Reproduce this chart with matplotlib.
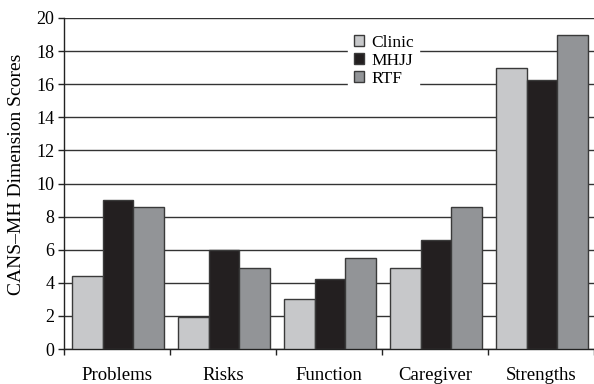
import matplotlib
matplotlib.use("Agg")
import matplotlib.pyplot as plt
import numpy as np

categories = ["Problems", "Risks", "Function", "Caregiver", "Strengths"]
series_names = ["Clinic", "MHJJ", "RTF"]
clinic = [4.4, 1.95, 3.0, 4.9, 17.0]
mhjj = [9.0, 6.0, 4.2, 6.6, 16.25]
rtf = [8.55, 4.9, 5.5, 8.55, 19.0]
yticks = list(range(0, 21, 2))

colors = ["#c7c8ca", "#231f20", "#929497"]
plt.rcParams['font.family'] = ['Liberation Serif', 'DejaVu Serif']

fig = plt.figure(figsize=(5.94, 3.84), dpi=100)
ax = fig.add_axes([64/594, 1-349/384, 1-64/594, (349-18)/384])

x = np.arange(len(categories))
w = 0.29
for k, (vals, name, c) in enumerate(zip([clinic, mhjj, rtf], series_names, colors)):
    ax.bar(x + (k-1)*w + 0.01, vals, width=w, color=c, edgecolor="#3a3a3a",
           linewidth=1.0, label=name, zorder=3)

ax.set_ylim(0, 20)
ax.set_xlim(-0.5, 4.385)
ax.set_yticks(yticks)
ax.set_yticklabels([str(t) for t in yticks], fontsize=13)
ax.yaxis.grid(True, color="#333333", linewidth=1.0, zorder=0)
ax.set_axisbelow(True)

ax.set_xticks(x)
ax.set_xticklabels(categories, fontsize=13.5)
ax.set_xticks(np.arange(-0.5, 5, 1), minor=True)
ax.tick_params(axis='x', which='major', length=0, pad=13)
ax.tick_params(axis='x', which='minor', length=4, width=1, direction='out', color='#222')
ax.tick_params(axis='y', length=4, width=1, color='#222', pad=3)

for s in ['top', 'right']:
    ax.spines[s].set_visible(False)
for s in ['left', 'bottom']:
    ax.spines[s].set_color('#222')
    ax.spines[s].set_linewidth(1.0)

ax.set_ylabel("CANS\u2013MH Dimension Scores", fontsize=14)
ax.yaxis.set_label_coords(-0.074, 0.529)

leg = ax.legend(loc='upper center', bbox_to_anchor=(0.603, 0.965), fontsize=12.5,
                handlelength=0.6, handleheight=0.6, handletextpad=0.4,
                labelspacing=0.12, frameon=True, fancybox=False,
                borderpad=0.3, borderaxespad=0)
leg.get_frame().set_facecolor('white')
leg.get_frame().set_edgecolor('white')
leg.get_frame().set_alpha(1)
leg.set_zorder(5)

fig.savefig("out.png", dpi=100)
